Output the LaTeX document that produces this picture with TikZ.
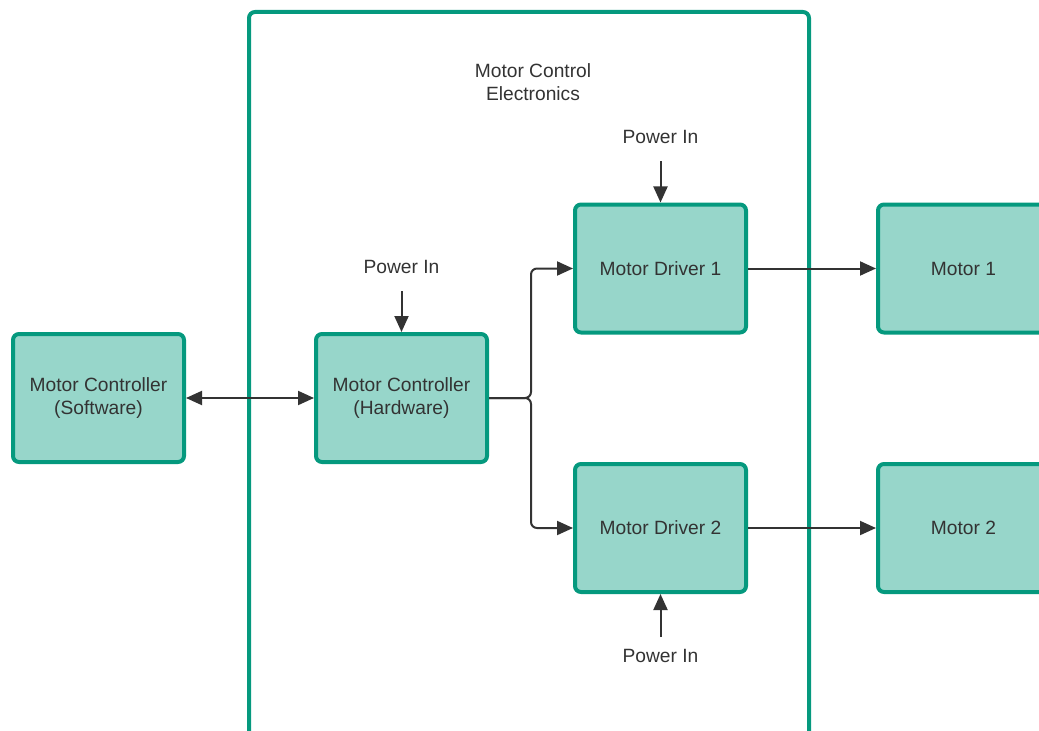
\documentclass[tikz,border=0pt]{standalone}
\usepackage{fontspec}
\setmainfont{Liberation Sans}
\usepackage{xcolor}
\definecolor{colorFill}{HTML}{97D6CA}
\definecolor{colorLine}{HTML}{05997E}
\definecolor{colorText}{HTML}{333333}
\usepackage{tikz}
\usetikzlibrary{arrows.meta, positioning}
\tikzset{block/.style={draw=colorLine, fill=colorFill, line width=2pt, rounded corners=3pt, minimum width=85.5pt, minimum height=64pt, align=center, text=colorText}}

\begin{document}
\begin{tikzpicture}[x=0.5pt, y=0.5pt, >={Triangle[length=8pt, width=7pt]}, font=\fontsize{9.6pt}{11.5pt}\selectfont, every node/.style={text=colorText}, lbl/.style={inner sep=6pt}]
\useasboundingbox (0,0) rectangle (1039,730);
\clip (0,0) rectangle (1039,730);
\draw[colorLine, line width=2pt, rounded corners=3pt] (249,718) rectangle (809,-40);
\node[align=center] (mce) at (533,648) {Motor Control\\Electronics};
\node[block] (sw) at (98.5,332) {Motor Controller\\(Software)};
\node[block, right=64pt of sw] (hw) {Motor Controller\\(Hardware)};
\node[block, right=42pt of hw, yshift=64.75pt] (drv1) {Motor Driver 1};
\node[block, right=42pt of hw, yshift=-65pt] (drv2) {Motor Driver 2};
\node[block, right=64pt of drv1] (mot1) {Motor 1};
\node[block, right=64pt of drv2] (mot2) {Motor 2};
\node[lbl, above=23pt of hw] (pw0) {Power In};
\node[lbl, above=23pt of drv1] (pw1) {Power In};
\node[lbl, below=21.5pt of drv2] (pw2) {Power In};
\draw [<->, colorText, line width=1pt] (sw) -- (hw);
\draw [->, colorText, line width=1pt, rounded corners=3pt] (hw.east) -- ++(21pt,0) coordinate (jn) |- (drv1.west);
\draw [->, colorText, line width=1pt, rounded corners=3pt] (hw.east) -- (jn) |- (drv2.west);
\draw [->, colorText, line width=1pt] (drv1) -- (mot1);
\draw [->, colorText, line width=1pt] (drv2) -- (mot2);
\draw [->, colorText, line width=1pt, shorten <=2.5pt] (pw0) -- (hw);
\draw [->, colorText, line width=1pt, shorten <=2.5pt] (pw1) -- (drv1);
\draw [->, colorText, line width=1pt] (pw2) -- (drv2);
\end{tikzpicture}
\end{document}
